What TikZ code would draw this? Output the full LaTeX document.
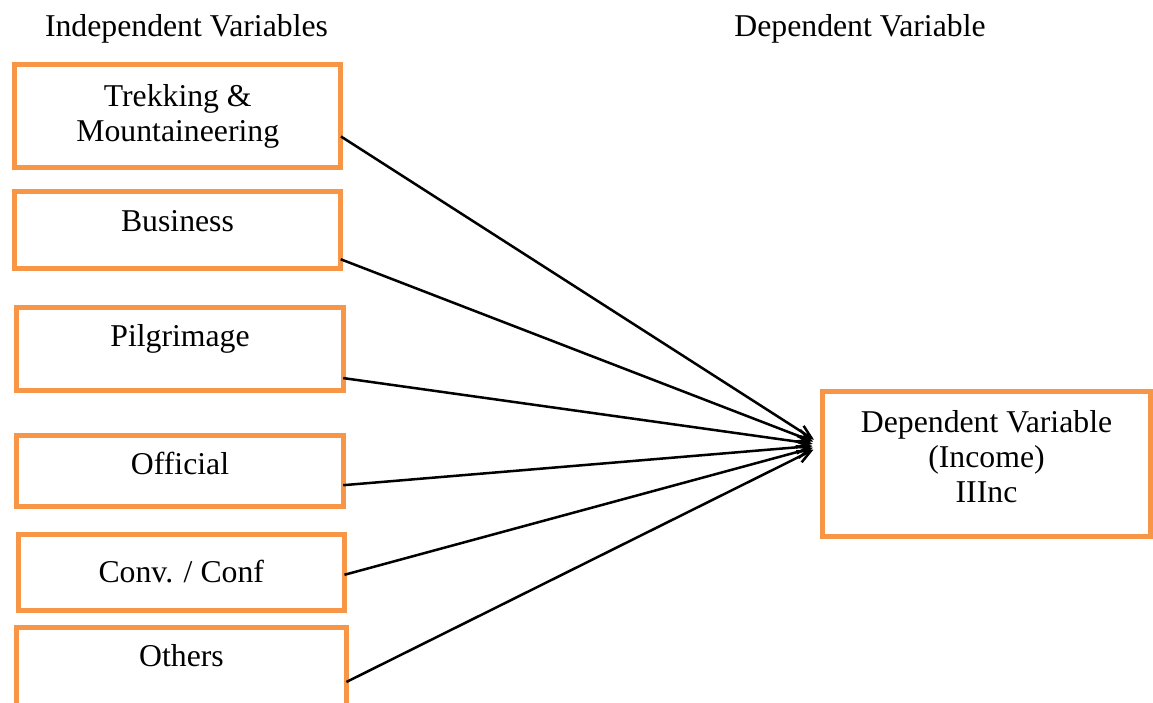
\documentclass[tikz,border=0pt]{standalone}
\usepackage{fontspec}
\setmainfont{Liberation Serif}
\usetikzlibrary{calc,arrows.meta}
\definecolor{boxorange}{HTML}{F79646}

\begin{document}
\begin{tikzpicture}[x=0.378pt, y=-0.378pt,
  every node/.style={font=\fontsize{12}{13.2}\selectfont},
  varbox/.style={draw=boxorange, line width=1.9pt, inner sep=0pt, outer sep=0pt, minimum width=123.4pt},
  lift/.style={text height=8pt, text depth=#1},
  stack/.style={align=center, text height=#1, text depth=0pt},
  effect/.style={-{Straight Barb[length=5pt, width=4.6pt]}, line width=0.95pt, shorten >=3.8pt}]
\useasboundingbox (0,0) rectangle (1153,702);
\node[anchor=base] (IVhead) at (186.5,36) {Independent Variables};
\node[anchor=base] (DVhead) at (860,36) {Dependent Variable};
\node[varbox, minimum height=38.7pt, stack=19pt] (IV1) at (177.75,116) {Trekking \&\\Mountaineering};
\node[varbox, minimum height=29.1pt, lift=6.7pt] (IV2) at (177.5,230) {Business};
\node[varbox, minimum height=31.4pt, lift=9.7pt] (IV3) at (180,349) {Pilgrimage};
\node[varbox, minimum height=26.8pt, lift=5.5pt] (IV4) at (180,471) {Official};
\node[varbox, minimum height=28.7pt, lift=0.3pt] (IV5) at (181.25,572.5) {Conv. / Conf};
\node[varbox, minimum height=42.5pt, minimum width=124.7pt, lift=20.9pt] (IV6) at (181.5,683.75) {Others};
\node[varbox, minimum height=54.8pt, minimum width=124pt, stack=29pt] (DV) at (986.5,464) {Dependent Variable\\(Income)\\IIInc};
\coordinate (hub) at ($(DV.north west)!0.37!(DV.south west)$);
\draw[effect] ($(IV1.north east)!0.70!(IV1.south east)$) -- (hub);
\draw[effect] ($(IV2.north east)!0.88!(IV2.south east)$) -- (hub);
\draw[effect] ($(IV3.north east)!0.85!(IV3.south east)$) -- (hub);
\draw[effect] ($(IV4.north east)!0.70!(IV4.south east)$) -- (hub);
\draw[effect] ($(IV5.north east)!0.53!(IV5.south east)$) -- (hub);
\draw[effect] ($(IV6.north east)!0.484!(IV6.south east)$) -- (hub);
\end{tikzpicture}
\end{document}
